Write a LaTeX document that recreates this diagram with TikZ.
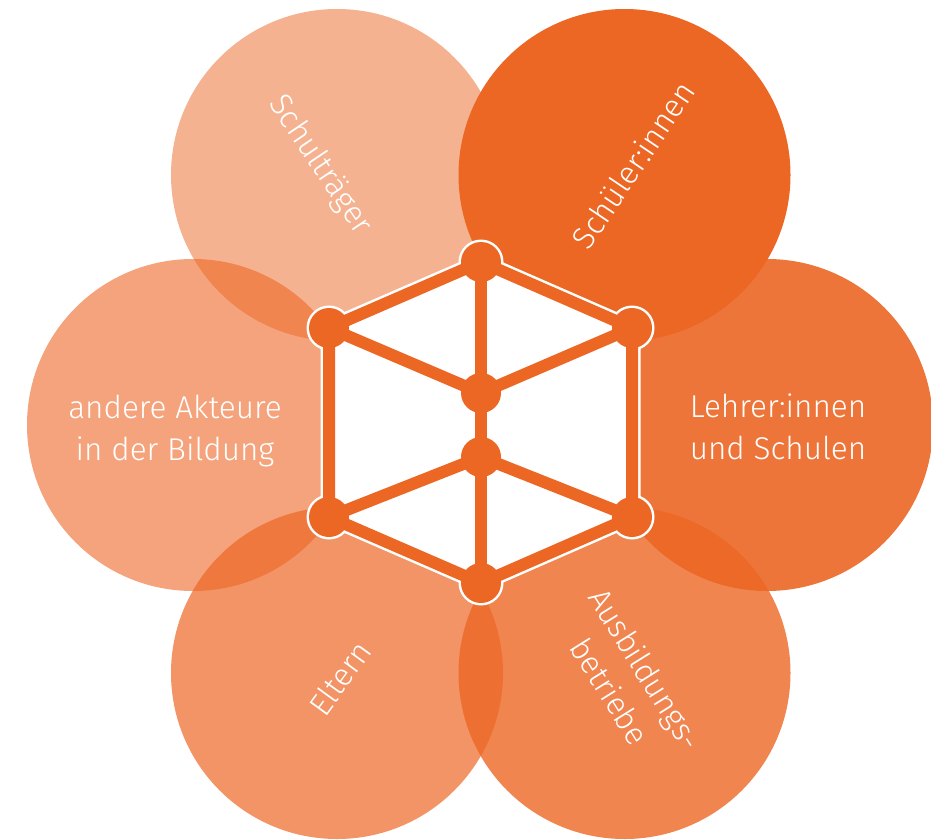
\documentclass[tikz,border=0pt]{standalone}
\usepackage{fontspec}
\setmainfont{Fira Sans Light}
\definecolor{org}{RGB}{236,102,36}
\tikzset{
  bubble/.style={circle, fill=org, minimum size=332pt, inner sep=0pt, draw=none},
  lbl/.style={text=white, align=center, font=\fontsize{31.5}{42}\selectfont, inner sep=0pt},
  edge/.style={draw=org, line width=12pt, line cap=round},
  halo/.style={draw=white, line width=17pt, line join=round},
  vdot/.style={circle, fill=org, minimum size=40pt, inner sep=0pt, draw=none},
}
\begin{document}
\begin{tikzpicture}[x=1pt, y=-1pt]
\useasboundingbox (0,0) rectangle (931,840);
% bubbles
\node[bubble, fill opacity=0.5] (c1) at (337,175) {};
\node[bubble, fill opacity=0.6] (c2) at (193,425) {};
\node[bubble, fill opacity=0.7] (c3) at (337,673) {};
\node[bubble, fill opacity=0.8] (c4) at (624.5,673) {};
\node[bubble, fill opacity=0.9] (c5) at (767,425) {};
\node[bubble, fill opacity=1.0] (c6) at (624.5,175) {};
% labels
\node[lbl, rotate=-56] (t1) at (320,165) {Schulträger};
\node[lbl] (t2) at (175,431) {andere Akteure\\in der Bildung};
\node[lbl, rotate=54] (t3) at (340,678) {Eltern};
\node[lbl, rotate=-58] (t4) at (628,680) {Ausbildungs-\\betriebe};
\node[lbl] (t5) at (778,427) {Lehrer:innen\\und Schulen};
\node[lbl, rotate=56] (t6) at (633,165) {Schüler:innen};
% cube coordinates
\coordinate (T) at (481,262);
\coordinate (UR) at (632,328);
\coordinate (LR) at (632,517);
\coordinate (B) at (481,583);
\coordinate (LL) at (329,517);
\coordinate (UL) at (329,328);
\coordinate (IU) at (481,393);
\coordinate (IL) at (481,457);
% white halo and fill
\fill[white] (T) -- (UR) -- (LR) -- (B) -- (LL) -- (UL) -- cycle;
\draw[halo] (T) -- (UR) -- (LR) -- (B) -- (LL) -- (UL) -- cycle;
\foreach \p in {T,UR,LR,B,LL,UL} \fill[white] (\p) circle (22.5pt);
% orange edges
\draw[edge] (T) -- (UR) -- (LR) -- (B) -- (LL) -- (UL) -- cycle;
\draw[edge] (T) -- (B);
\draw[edge] (UL) -- (IU) -- (UR);
\draw[edge] (LL) -- (IL) -- (LR);
% vertex dots
\foreach \p in {T,UR,LR,B,LL,UL,IU,IL} \node[vdot] (d\p) at (\p) {};
\end{tikzpicture}
\end{document}
